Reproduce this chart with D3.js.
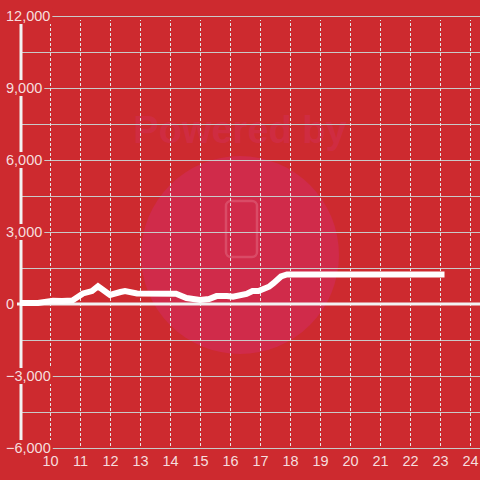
<!DOCTYPE html>
<meta charset="utf-8">
<style>
body { margin: 0; }
svg { display: block; font-family: "Liberation Sans", Arial, sans-serif; }
.tickLabel { fill: #f6dede; font-size: 14.5px; }
</style>
<svg width="480" height="480"></svg>
<script src="https://d3js.org/d3.v7.min.js"></script>
<script>

// time of day (hours) and cumulative value
var hours  = [9.0, 9.6, 10.1, 10.4, 10.75, 11.1, 11.4, 11.6, 12.0, 12.35, 12.5, 12.9, 14.2, 14.55, 15.0, 15.3, 15.55, 15.9, 16.1, 16.55, 16.75, 16.95, 17.3, 17.45, 17.7, 17.9, 23.15];
var values = [40, 40, 140, 130, 150, 440, 540, 740, 380, 500, 540, 440, 430, 250, 170, 210, 330, 330, 300, 420, 540, 540, 720, 870, 1150, 1230, 1230];
var xTicks = [10, 11, 12, 13, 14, 15, 16, 17, 18, 19, 20, 21, 22, 23, 24];
var yTicks = [-6000, -4500, -3000, -1500, 0, 1500, 3000, 4500, 6000, 7500, 9000, 10500, 12000];
var yLabelTicks = [-6000, -3000, 0, 3000, 6000, 9000, 12000];

var svg = d3.select("svg"),
    width = +svg.attr("width"),
    height = +svg.attr("height"),
    bg = "#cd2a2f";

var x = d3.scaleLinear().domain([9, 24.4]).range([20, 482]),
    y = d3.scaleLinear().domain([-6000, 12000]).range([448, 16]);

svg.append("rect").attr("width", width).attr("height", height).attr("fill", bg);

// faint watermark
var wm = svg.append("g");
wm.append("circle").attr("cx", 240).attr("cy", 255).attr("r", 99).attr("fill", "#d02b4a");
wm.append("text").attr("x", 240).attr("y", 143).attr("text-anchor", "middle")
    .attr("font-size", 38).attr("font-weight", "bold").attr("fill", "#d3305a").attr("fill-opacity", 0.45)
    .text("Powered by");
wm.append("rect").attr("x", 226).attr("y", 201).attr("width", 31).attr("height", 56).attr("rx", 5)
    .attr("fill", "none").attr("stroke", "#e0607a").attr("stroke-opacity", 0.6).attr("stroke-width", 2.5);

// horizontal grid
svg.append("g")
    .attr("transform", "translate(22,0)")
    .call(d3.axisLeft(y).tickValues(yTicks).tickSize(-(width - 22)).tickFormat(""))
    .call(function(g) { g.select(".domain").remove(); })
    .call(function(g) { g.selectAll(".tick line").attr("stroke", "#c9c9c9").attr("stroke-width", 1.2); });

// vertical dashed grid + x labels
svg.append("g")
    .attr("transform", "translate(0,446)")
    .call(d3.axisBottom(x).tickValues(xTicks).tickSize(-426).tickPadding(10).tickFormat(d3.format("d")))
    .call(function(g) { g.select(".domain").remove(); })
    .call(function(g) {
      g.selectAll(".tick line").attr("stroke", "#e6e6e6").attr("stroke-dasharray", "3,2");
      g.selectAll(".tick text").attr("class", "tickLabel").attr("font-family", null).attr("font-size", null);
    });

// y axis line
svg.append("line")
    .attr("x1", 21).attr("x2", 21).attr("y1", y(12000)).attr("y2", y(-6000))
    .attr("stroke", "#f2f2f2").attr("stroke-width", 3);

// zero line
svg.append("line")
    .attr("x1", 17).attr("x2", width).attr("y1", y(0)).attr("y2", y(0))
    .attr("stroke", "#f2f2f2").attr("stroke-width", 3);

// y labels with background boxes
var yl = svg.append("g").selectAll("g").data(yLabelTicks).enter().append("g")
    .attr("transform", function(d) { return "translate(0," + y(d) + ")"; });
yl.append("text")
    .attr("class", "tickLabel")
    .attr("x", 6).attr("dy", "0.36em")
    .text(d3.format(","));
yl.each(function() {
  var b = d3.select(this).select("text").node().getBBox();
  d3.select(this).insert("rect", "text")
      .attr("x", b.x - 2).attr("y", -8).attr("width", b.width + 4).attr("height", 16)
      .attr("fill", bg);
});

// data line
var line = d3.line()
    .x(function(d, i) { return x(hours[i]); })
    .y(function(d) { return y(d); });

svg.append("path")
    .datum(values)
    .attr("fill", "none")
    .attr("stroke", "#ffffff")
    .attr("stroke-width", 6)
    .attr("d", line);

</script>
